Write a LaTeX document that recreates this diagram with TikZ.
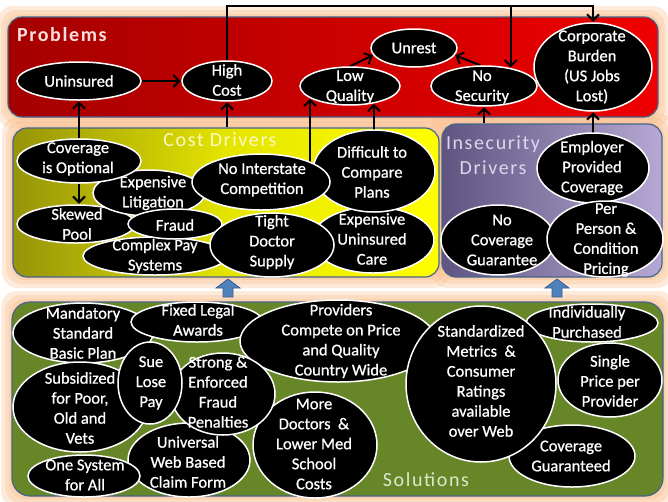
\documentclass[tikz,border=0pt]{standalone}
\usepackage{fontspec}
\setmainfont{Carlito}
\newfontfamily\bodyfont[FakeBold=0.8]{Carlito}
\newfontfamily\titlefont[LetterSpace=8]{Carlito}
\usetikzlibrary{shapes.geometric,arrows.meta,calc}
\pgfdeclarelayer{glow}
\pgfdeclarelayer{panels}
\pgfdeclarelayer{lines}
\pgfsetlayers{glow,panels,lines,main}
\definecolor{glowc}{RGB}{250,188,136}
\definecolor{pborder}{RGB}{70,100,140}
\definecolor{redL}{RGB}{165,0,0}
\definecolor{redR}{RGB}{240,0,0}
\definecolor{yelL}{RGB}{150,148,10}
\definecolor{yelM}{RGB}{228,228,0}
\definecolor{yelR}{RGB}{255,255,0}
\definecolor{purL}{RGB}{95,85,128}
\definecolor{purR}{RGB}{182,168,212}
\definecolor{grn}{RGB}{102,134,40}
\definecolor{blueA}{RGB}{79,129,189}
\definecolor{blueB}{RGB}{56,93,138}
\tikzset{
  panel/.style={draw=pborder, line width=1.2pt, rounded corners=14pt, inner sep=0pt},
  ell/.style={ellipse, fill=black, draw=white, line width=1.5pt, inner sep=0pt},
  tx/.style={text=white, align=center, inner sep=0pt, font=\bodyfont\fontsize{16.5}{20}\selectfont},
  ttl/.style={inner sep=0pt, align=center, font=\titlefont\fontsize{20}{25}\selectfont},
  arr/.style={draw=black, line width=2pt, -{Straight Barb[length=6pt,width=12pt]}, shorten >=0.5pt},
  bluearr/.style={fill=blueA, draw=blueB, line width=0.8pt, line join=miter}
}
\newcommand\ellnode[5]{\node[ell, minimum width=2*#4pt, minimum height=2*#5pt] (#1) at (#2,#3) {};}
\newcommand\txtnode[4]{\node[tx] (#1) at (#2,#3) {#4};}
\newcommand\glowbox[4]{%
  \foreach \d in {11,7,3}{%
    \fill[glowc, fill opacity=0.3, rounded corners=16pt] (#1-\d,#2-\d) rectangle (#3+\d,#4+\d);}}
\begin{document}
\begin{tikzpicture}[x=1pt,y=-1pt]
\useasboundingbox (0,0) rectangle (668,501);
% glows
\begin{pgfonlayer}{glow}
\fill[white] (0,0) rectangle (668,501);
\glowbox{8}{17}{658}{117}
\glowbox{13}{128}{439}{277}
\glowbox{442}{124}{662}{277}
\glowbox{12}{302}{663}{496}
\end{pgfonlayer}
% panels
\begin{pgfonlayer}{panels}
\node[panel, left color=redL, right color=redR, minimum width=650pt, minimum height=100pt] (probs) at (333,67) {};
\node[panel, left color=yelL, right color=yelR, middle color=yelM, minimum width=426pt, minimum height=149pt] (cost) at (226,202.5) {};
\node[panel, left color=purL, right color=purR, minimum width=220pt, minimum height=153pt] (ins) at (552,200.5) {};
\node[panel, fill=grn, minimum width=651pt, minimum height=194pt, rounded corners=18pt] (sol) at (337.5,399) {};
\node[ttl, anchor=west, text={rgb,255:red,250;green,222;blue,222}, font=\titlefont\bfseries\fontsize{20}{25}\selectfont] (probs-t) at (17,35) {Problems};
\node[ttl, text={rgb,255:red,250;green,248;blue,200}] (cost-t) at (220,140) {Cost Drivers};
\node[ttl, text={rgb,255:red,222;green,214;blue,236}] (ins-t) at (493,155) {Insecurity\\Drivers};
\node[ttl, text={rgb,255:red,222;green,232;blue,204}] (sol-t) at (426,480) {Solutions};
\draw[bluearr] (228,279) -- (240,288) -- (233,288) -- (233,297) -- (223,297) -- (223,288) -- (216,288) -- cycle;
\draw[bluearr] (557,279) -- (569,288) -- (562,288) -- (562,297) -- (552,297) -- (552,288) -- (545,288) -- cycle;
\end{pgfonlayer}
% Problems
\ellnode{un}{79}{81}{62}{19}
\ellnode{hc}{227}{81}{45}{20}
\ellnode{lq}{350}{86}{50}{19}
\ellnode{ur}{414}{48}{43}{19}
\ellnode{ns}{484}{86}{53}{20}
\ellnode{cb}{593}{67}{59}{44}
\txtnode{un-t}{79}{81}{Uninsured}
\txtnode{hc-t}{227}{80}{High\\Cost}
\txtnode{lq-t}{350}{87}{Low\\Quality}
\txtnode{ur-t}{414}{48}{Unrest}
\txtnode{ns-t}{482}{87}{No\\Security}
\txtnode{cb-t}{592}{67}{Corporate\\Burden\\(US Jobs\\Lost)}
% Cost drivers
\ellnode{euc}{373}{240}{61}{33}
\ellnode{dcp}{374}{171}{61}{41}
\ellnode{sp}{76}{224}{59}{19}
\ellnode{el}{149}{193}{56}{23}
\ellnode{cio}{79}{161}{62}{22}
\ellnode{cps}{155}{256}{72}{19}
\ellnode{nic}{261}{182}{69}{28}
\ellnode{fr}{175}{224}{47}{15}
\ellnode{tds}{272}{245}{62}{32}
\txtnode{euc-t}{372}{239}{Expensive\\Uninsured\\Care}
\txtnode{dcp-t}{372}{172}{Difficult to\\Compare\\Plans}
\txtnode{sp-t}{77}{224}{Skewed\\Pool}
\txtnode{el-t}{153}{193}{Expensive\\Litigation}
\txtnode{cio-t}{78}{159}{Coverage\\is Optional}
\txtnode{cps-t}{155}{256}{Complex Pay\\Systems}
\txtnode{nic-t}{262}{180}{No Interstate\\Competition}
\txtnode{fr-t}{175}{225}{Fraud}
\txtnode{tds-t}{272}{242}{Tight\\Doctor\\Supply}
% Insecurity drivers
\ellnode{epc}{593}{168}{56}{35}
\ellnode{ncg}{498}{240}{57}{35}
\ellnode{ppc}{605}{239}{58}{38}
\txtnode{epc-t}{592}{168}{Employer\\Provided\\Coverage}
\txtnode{ncg-t}{502}{240}{No\\Coverage\\Guarantee}
\txtnode{ppc-t}{606}{240}{Per\\Person \&\\Condition\\Pricing}
% Solutions
\ellnode{msb}{83}{333}{70}{30}
\ellnode{fla}{197}{322}{66}{20}
\ellnode{pcp}{338}{341}{98}{41}
\ellnode{ip}{592}{323}{66}{19}
\ellnode{spp}{610}{380}{52}{37}
\ellnode{cg}{572}{456}{63}{31}
\ellnode{smc}{481}{384}{75}{78}
\ellnode{mdl}{315}{445}{62}{53}
\ellnode{sub}{80}{407}{67}{45}
\ellnode{uwb}{189}{460}{61}{37}
\ellnode{osa}{84}{476}{56}{21}
\ellnode{sef}{223}{394}{52}{41}
\ellnode{slp}{150}{383}{32}{41}
\txtnode{msb-t}{83}{333}{Mandatory\\Standard\\Basic Plan}
\txtnode{fla-t}{198}{320}{Fixed Legal\\Awards}
\txtnode{pcp-t}{341}{341}{Providers\\Compete on Price\\and Quality\\Country Wide}
\txtnode{ip-t}{587}{322}{Individually\\Purchased}
\txtnode{spp-t}{610}{381}{Single\\Price per\\Provider}
\txtnode{cg-t}{571}{456}{Coverage\\Guaranteed}
\txtnode{smc-t}{481}{381}{Standardized\\Metrics \ \&\\Consumer\\Ratings\\available\\over Web}
\txtnode{mdl-t}{314}{444}{More\\Doctors \ \&\\Lower Med\\School\\Costs}
\txtnode{sub-t}{80}{408}{Subsidized\\for Poor,\\Old and\\Vets}
\txtnode{uwb-t}{188}{462}{Universal\\Web Based\\Claim Form}
\txtnode{osa-t}{85}{475}{One System\\for All}
\txtnode{sef-t}{218}{392}{Strong \&\\Enforced\\Fraud\\Penalties}
\txtnode{slp-t}{151}{383}{Sue\\Lose\\Pay}
% connectors
\begin{pgfonlayer}{lines}
\coordinate (topy) at (0,6);
\draw[arr] (un) -- (hc);
\draw[arr] (lq.north) -- (ur.190);
\draw[arr] (ns.100) -- (ur.350);
\draw[arr] (hc.north) -- (hc.north |- topy) -| (cb.north);
\draw[arr] (ns.34 |- topy) -- (ns.34);
\draw[arr] (cio.north) -- (un.south);
\draw[arr] (hc.south |- cost.north) -- (hc.south);
\draw[arr] (lq.197 |- nic.center) -- (lq.197);
\draw[arr] (lq.-36 |- dcp.center) -- (lq.-36);
\draw[arr] (ns.south |- ins.north) -- (ns.south);
\draw[arr] (cb.south |- epc.center) -- (cb.south);
\draw[arr] (cio.south) -- (cio.south |- sp.north);
\end{pgfonlayer}
\end{tikzpicture}
\end{document}
